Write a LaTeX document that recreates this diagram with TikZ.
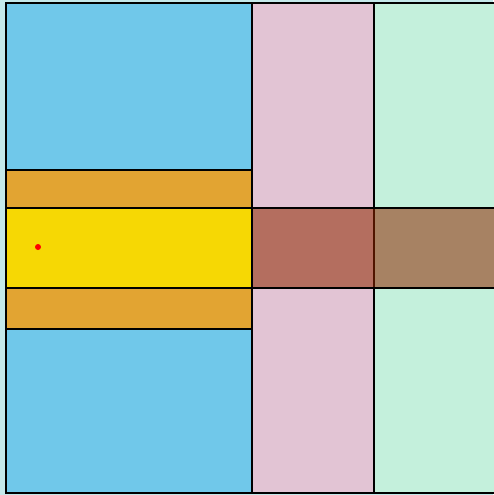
\documentclass[tikz,border=0pt]{standalone}
\usepackage{tikz}
\usetikzlibrary{calc}

\definecolor{bgcyan}{RGB}{196,232,234}
\definecolor{skyblue}{RGB}{112,200,234}
\definecolor{bandorange}{RGB}{226,164,50}
\definecolor{coreyellow}{RGB}{246,216,4}
\definecolor{colpink}{RGB}{226,196,212}
\definecolor{colgreen}{RGB}{196,240,220}
\definecolor{overlaybrown}{RGB}{144,40,0}

\begin{document}
\begin{tikzpicture}[x=1pt, y=-1pt, line width=1.6pt]
  \useasboundingbox (0,0) rectangle (493,495);
  \fill[bgcyan] (0,0) rectangle (493,495);
  % left block
  \fill[skyblue] (6,3) rectangle (252,493);
  \fill[bandorange] (6,170) rectangle (252,329);
  \fill[coreyellow] (6,208) rectangle (252,288);
  % columns
  \fill[colpink] (252,3) rectangle (374,493);
  \fill[colgreen] (374,3) rectangle (500,493);
  \draw[black] (6,170) -- (252,170);
  \draw[black] (6,329) -- (252,329);
  \draw[black] (6,208) -- (500,208);
  \draw[black] (6,288) -- (500,288);
  \draw[black] (252,3) -- (252,493);
  \draw[black] (374,3) -- (374,493);
  \draw[black] (500,3) -- (6,3) -- (6,493) -- (500,493);
  % crossing band
  \fill[overlaybrown, opacity=0.55] (253,209) rectangle (500,287);
  \fill[red] (38,247) circle (3);
\end{tikzpicture}
\end{document}
